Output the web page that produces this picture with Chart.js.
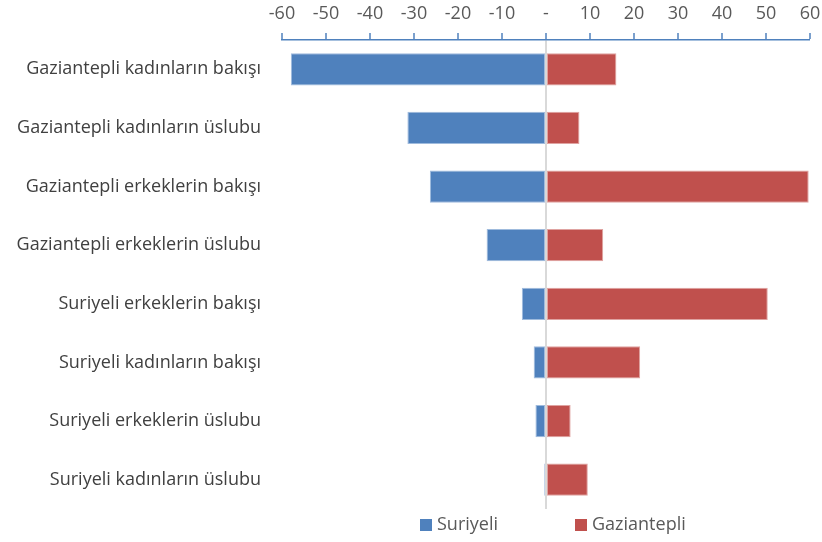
<!DOCTYPE html>
<html lang="tr">
<head>
  <meta charset="UTF-8">
  <title>Suriyeli / Gaziantepli</title>
  <style>
    body { margin: 0; background: #fff; }
    .wrap { position: relative; width: 822px; height: 542px; }
    .legend { position: absolute; top: 511px; font: 18px 'Open Sans', sans-serif; color: #595959; }
    .legend span.box { display: inline-block; width: 12px; height: 12px; margin-right: 5px; vertical-align: -1px; }
  </style>
</head>
<body>
  <div class="wrap">
    <canvas id="chart" width="822" height="542"></canvas>
    <div class="legend" style="left:420px"><span class="box" style="background:#4f81bd"></span>Suriyeli</div>
    <div class="legend" style="left:575px"><span class="box" style="background:#c0504d"></span>Gaziantepli</div>
  </div>

  <script src="https://cdn.jsdelivr.net/npm/chart.js"></script>
  <script>
    const categories = [
      'Gaziantepli kadınların bakışı',
      'Gaziantepli kadınların üslubu',
      'Gaziantepli erkeklerin bakışı',
      'Gaziantepli erkeklerin üslubu',
      'Suriyeli erkeklerin bakışı',
      'Suriyeli kadınların bakışı',
      'Suriyeli erkeklerin üslubu',
      'Suriyeli kadınların üslubu'
    ];
    const suriyeli = [-58, -31.5, -26.4, -13.5, -5.5, -2.8, -2.4, -0.4];
    const gaziantepli = [16, 7.6, 59.7, 13, 50.4, 21.4, 5.6, 9.5];
    const xTicks = [-60, -50, -40, -30, -20, -10, 0, 10, 20, 30, 40, 50, 60];

    const font = "'Open Sans', sans-serif";

    new Chart(document.getElementById('chart'), {
      type: 'bar',
      data: {
        labels: categories,
        datasets: [
          { label: 'Suriyeli', data: suriyeli, backgroundColor: '#4f81bd',
            borderColor: '#9fbbdd', borderWidth: 1, borderSkipped: false },
          { label: 'Gaziantepli', data: gaziantepli, backgroundColor: '#c0504d',
            borderColor: '#dfa3a1', borderWidth: 1, borderSkipped: false }
        ]
      },
      options: {
        indexAxis: 'y',
        responsive: false,
        animation: false,
        layout: { padding: { top: 0, right: 12, bottom: 33, left: 0 } },
        datasets: { bar: { categoryPercentage: 1, barPercentage: 0.55 } },
        scales: {
          x: {
            position: 'top',
            stacked: true,
            min: -60,
            max: 60,
            afterFit: (s) => { s.height = 40; s.paddingLeft = 0; s.paddingRight = 0; },
            afterBuildTicks: (s) => { s.ticks = xTicks.map(v => ({ value: v })); },
            border: { color: '#4f81bd', width: 1.5 },
            grid: {
              color: (c) => (c.tick && c.tick.value === 0) ? '#d9d9d9' : 'transparent',
              lineWidth: (c) => (c.tick && c.tick.value === 0) ? 2 : 0,
              tickColor: '#4f81bd',
              tickWidth: 1.5,
              tickLength: 7
            },
            ticks: {
              padding: 8,
              color: '#595959',
              font: { size: 18, family: font },
              maxRotation: 0,
              callback: (v) => v === 0 ? '-' : v
            }
          },
          y: {
            stacked: true,
            afterFit: (s) => { s.width = 282; },
            border: { display: false },
            grid: { display: false, drawTicks: false },
            ticks: {
              padding: 21,
              color: '#404040',
              font: { size: 18, family: font }
            }
          }
        },
        plugins: {
          legend: { display: false },
          tooltip: { enabled: false }
        }
      }
    });
  </script>
</body>
</html>
